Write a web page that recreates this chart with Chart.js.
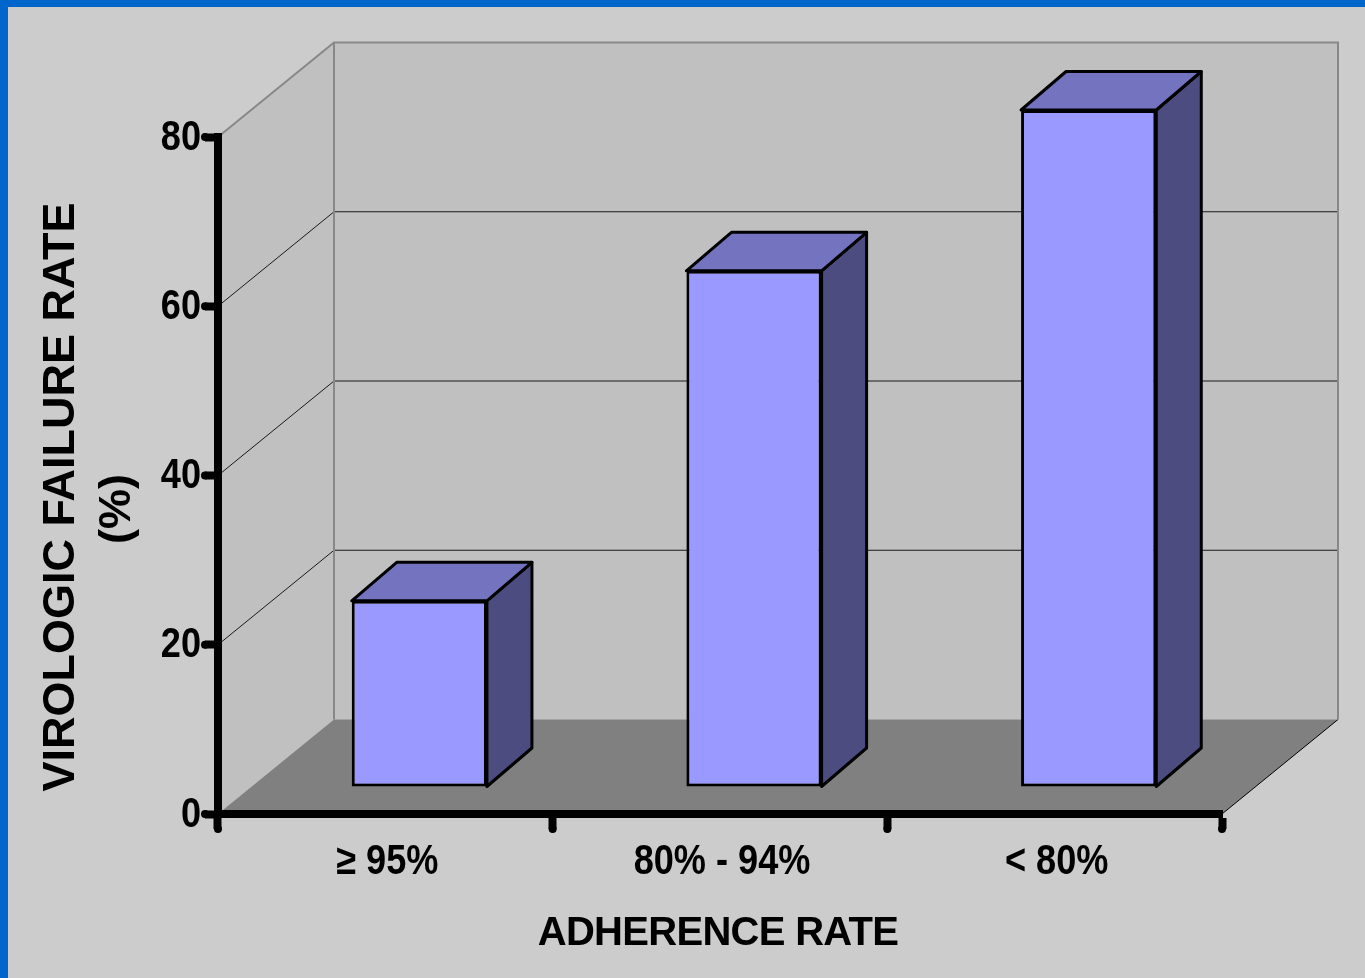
<!DOCTYPE html>
<html>
<head>
<meta charset="utf-8">
<title>Virologic failure rate by adherence rate</title>
<script src="https://cdn.jsdelivr.net/npm/chart.js@4.4.1/dist/chart.umd.min.js"></script>
<style>
  html, body { margin: 0; padding: 0; background: #cccccc; overflow: hidden; }
  #wrap { position: relative; width: 1365px; height: 978px; }
</style>
</head>
<body>
<div id="wrap"><canvas id="failureChart"></canvas></div>
<script>
const categories = ['≥ 95%', '80% - 94%', '< 80%'];
const failureRates = [22, 61, 80];
const yTicks = [0, 20, 40, 60, 80];
const yTitle = ['VIROLOGIC FAILURE RATE', '(%)'];
const xTitle = 'ADHERENCE RATE';

// oblique projection of the box: floor/back wall depth, bar position and bar depth
const DEPTH = { x: 116, y: -94.5 };
const BAR_SHIFT = { x: 34, y: -27 };
const BAR_DEPTH = { x: 45, y: -38.5 };

const boldFont = '"Liberation Sans", Arial, sans-serif';
// tick labels use a horizontally squeezed bold face
const TICK_FONT = 'bold 42px ' + boldFont;
const TICK_SQUEEZE = 0.86;

function polygon(ctx, pts, fill, stroke) {
  ctx.beginPath();
  ctx.moveTo(pts[0][0], pts[0][1]);
  for (let i = 1; i < pts.length; i++) ctx.lineTo(pts[i][0], pts[i][1]);
  ctx.closePath();
  if (fill) { ctx.fillStyle = fill; ctx.fill(); }
  if (stroke) { ctx.stroke(); }
}

function squeezedText(ctx, text, x, y, align) {
  ctx.save();
  ctx.translate(x, y);
  ctx.scale(TICK_SQUEEZE, 1);
  ctx.textAlign = align;
  ctx.fillText(text, 0, 0);
  ctx.restore();
}

const box3d = {
  id: 'box3d',
  beforeDraw(chart) {
    const { ctx, chartArea: a, scales: { y } } = chart;
    const bl = a.left + DEPTH.x, br = a.right + DEPTH.x;
    const bt = a.top + DEPTH.y, bb = a.bottom + DEPTH.y;
    ctx.save();
    ctx.fillStyle = '#cccccc';
    ctx.fillRect(0, 0, chart.width, chart.height);
    ctx.fillStyle = '#0066cc';
    ctx.fillRect(0, 0, chart.width, 7);
    ctx.fillRect(0, 0, 8, chart.height);

    // walls and floor
    polygon(ctx, [[a.left, a.top], [bl, bt], [bl, bb], [a.left, a.bottom]], '#c0c0c0');
    ctx.fillRect(bl, bt, br - bl, bb - bt);
    polygon(ctx, [[a.left, a.bottom], [a.right, a.bottom], [br, bb], [bl, bb]], '#808080');
    ctx.strokeStyle = '#000';
    ctx.lineWidth = 1;
    ctx.beginPath();
    ctx.moveTo(a.right, a.bottom);
    ctx.lineTo(br, bb);
    ctx.stroke();

    // gridlines across the side and back walls
    ctx.strokeStyle = '#1a1a1a';
    yTicks.slice(1, -1).forEach(v => {
      const py = y.getPixelForValue(v);
      ctx.beginPath();
      ctx.moveTo(a.left, py);
      ctx.lineTo(bl, py + DEPTH.y);
      ctx.lineTo(br, py + DEPTH.y);
      ctx.stroke();
    });

    // wall edges
    ctx.strokeStyle = '#888888';
    ctx.lineWidth = 2;
    ctx.beginPath();
    ctx.moveTo(a.left, a.top);
    ctx.lineTo(bl, bt);
    ctx.lineTo(br, bt);
    ctx.lineTo(br, bb);
    ctx.moveTo(bl, bt);
    ctx.lineTo(bl, bb);
    ctx.stroke();
    ctx.restore();
  },
  beforeDatasetsDraw(chart) {
    const { ctx } = chart;
    const meta = chart.getDatasetMeta(0);
    ctx.save();
    ctx.strokeStyle = '#000';
    ctx.lineWidth = 3;
    ctx.lineJoin = 'round';
    meta.data.forEach(bar => {
      const { x, y, base, width } = bar.getProps(['x', 'y', 'base', 'width'], true);
      const l = x - width / 2 + BAR_SHIFT.x, r = x + width / 2 + BAR_SHIFT.x;
      const t = y + BAR_SHIFT.y, b = base + BAR_SHIFT.y;
      const dx = BAR_DEPTH.x, dy = BAR_DEPTH.y;
      polygon(ctx, [[r, t], [r + dx, t + dy], [r + dx, b + dy], [r, b]], '#4c4c80', true);
      polygon(ctx, [[l, t], [l + dx, t + dy], [r + dx, t + dy], [r, t]], '#7373bf', true);
    });
    ctx.restore();
    // front faces are drawn by Chart.js, pushed back into the box
    ctx.save();
    ctx.translate(BAR_SHIFT.x, BAR_SHIFT.y);
  },
  afterDatasetsDraw(chart) {
    chart.ctx.restore();
  },
  afterDraw(chart) {
    const { ctx, chartArea: a, scales: { x, y } } = chart;
    ctx.save();
    ctx.fillStyle = '#000';
    ctx.textBaseline = 'middle';

    // round ends on the axis ticks
    ctx.beginPath();
    yTicks.forEach(v => ctx.arc(a.left - 13, y.getPixelForValue(v), 4, 0, Math.PI * 2));
    ctx.fill();
    ctx.beginPath();
    for (let i = 0; i <= categories.length; i++) {
      const px = a.left + (a.right - a.left) * i / categories.length;
      ctx.moveTo(px + 4, a.bottom + 15);
      ctx.arc(px, a.bottom + 15, 4, 0, Math.PI * 2);
    }
    ctx.fill();

    // tick labels
    ctx.font = TICK_FONT;
    yTicks.forEach(v => squeezedText(ctx, String(v), a.left - 17, y.getPixelForValue(v) + 1, 'right'));
    categories.forEach((c, i) => squeezedText(ctx, c, x.getPixelForValue(i) + 2, 862, 'center'));

    // axis titles
    ctx.textAlign = 'center';
    ctx.font = 'bold 45px ' + boldFont;
    [[62, 497], [118, 509]].forEach(([tx, ty], i) => {
      ctx.save();
      ctx.translate(tx, ty);
      ctx.rotate(-Math.PI / 2);
      ctx.fillText(yTitle[i], 0, 0);
      ctx.restore();
    });
    ctx.font = 'bold 40px ' + boldFont;
    ctx.letterSpacing = '-0.7px';
    ctx.fillText(xTitle, (a.left + a.right) / 2 - 2, 934);
    ctx.restore();
  }
};

const ctx = document.getElementById('failureChart').getContext('2d');
new Chart(ctx, {
  type: 'bar',
  data: {
    labels: categories,
    datasets: [{
      label: 'Virologic failure rate (%)',
      data: failureRates,
      backgroundColor: '#9999ff',
      borderColor: '#000',
      borderWidth: 3,
      borderSkipped: false,
      barPercentage: 0.8,
      categoryPercentage: 0.505,
      clip: false
    }]
  },
  options: {
    responsive: true,
    maintainAspectRatio: false,
    animation: false,
    layout: { padding: { top: 137, right: 143, left: 0, bottom: 0 } },
    plugins: { legend: { display: false }, tooltip: { enabled: false } },
    scales: {
      x: {
        offset: true,
        grid: { display: true, drawOnChartArea: false, drawTicks: true, tickLength: 15, tickWidth: 8, tickColor: '#000', offset: true },
        border: { display: true, color: '#000', width: 8 },
        ticks: { display: false },
        afterFit: s => { s.height = 164; }
      },
      y: {
        min: 0,
        max: 80,
        afterBuildTicks: s => { s.ticks = yTicks.map(v => ({ value: v })); },
        grid: { display: true, drawOnChartArea: false, drawTicks: true, tickLength: 13, tickWidth: 8, tickColor: '#000' },
        border: { display: true, color: '#000', width: 8 },
        ticks: { display: false },
        afterFit: s => { s.width = 218; }
      }
    }
  },
  plugins: [box3d]
});
</script>
</body>
</html>
